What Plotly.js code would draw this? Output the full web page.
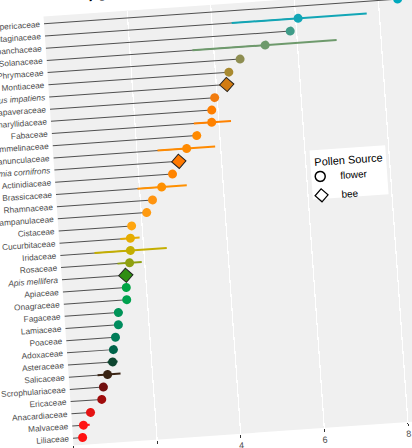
<!DOCTYPE html>
<html>
<head>
<meta charset="utf-8">
<script src="https://cdn.plot.ly/plotly-3.0.1.min.js"></script>
<style>
  html, body { margin:0; padding:0; background:#ffffff; overflow:hidden; width:412px; height:448px; }
  #plot { position:absolute; left:-79.4px; top:-14.8px; width:559px; height:520px;
          transform-origin:0 0; transform:rotate(-4deg); }
</style>
</head>
<body>
<div id="plot"></div>
<script>
// ---- data ----
const families = ["Hypericaceae","Plantaginaceae","Orobanchaceae","Solanaceae","Phrymaceae","Montiaceae",
  "Bombus impatiens","Papaveraceae","Amaryllidaceae","Fabaceae","Commelinaceae","Ranunculaceae",
  "Osmia cornifrons","Actinidiaceae","Brassicaceae","Rhamnaceae","Campanulaceae","Cistaceae",
  "Cucurbitaceae","Iridaceae","Rosaceae","Apis mellifera","Apiaceae","Onagraceae","Fagaceae",
  "Lamiaceae","Poaceae","Adoxaceae","Asteraceae","Salicaceae","Scrophulariaceae","Ericaceae",
  "Anacardiaceae","Malvaceae","Liliaceae"];
const values = [8.46,6.06,5.85,5.23,4.61,4.32,4.25,3.94,3.85,3.83,3.45,3.19,2.98,2.81,2.53,2.29,2.13,
  1.75,1.70,1.68,1.64,1.53,1.52,1.51,1.29,1.27,1.18,1.11,1.07,0.93,0.81,0.75,0.46,0.27,0.23];
const lower = [null,4.47,null,3.49,null,null,4.08,null,null,3.40,null,2.49,null,null,1.95,null,null,
  null,1.46,0.82,1.35,null,null,null,1.22,null,null,null,0.95,0.69,null,null,null,0.18,null];
const upper = [null,7.70,null,6.94,null,null,4.42,null,null,4.29,null,3.87,null,null,3.13,null,null,
  null,1.92,2.55,1.93,null,null,null,1.39,null,null,null,1.19,1.24,null,null,null,0.42,null];
const source = ["flower","flower","flower","flower","flower","flower","bee","flower","flower","flower",
  "flower","flower","bee","flower","flower","flower","flower","flower","flower","flower","flower","bee",
  "flower","flower","flower","flower","flower","flower","flower","flower","flower","flower","flower",
  "flower","flower"];
const colors = ["#00A9BD","#12A6B6","#3F9C88","#6E9A6C","#8E8E52","#A98A30","#D27C12","#F27C0E","#FF7F00",
  "#FF8200","#FF8A00","#FF8A00","#FF7800","#FF8400","#FF9000","#FF9410","#FF9A10","#FFA610","#E6AC00",
  "#C4AE00","#8FA010","#2F8E12","#00A444","#00A24E","#009458","#008C5E","#007C58","#00644A","#0F4630",
  "#3A2414","#721010","#A00C0C","#E41212","#FF1414","#FF1010"];

const xTicks = [0,2,4,6,8,10];
const legendTitle = "Pollen Source";
const tickText = families.map((f,i)=> source[i]==="bee" ? "<i>"+f+"</i>" : f);

// ---- traces ----
const traces = [];
// lollipop stems from 0 to value
const sx=[], sy=[];
families.forEach((f,i)=>{ sx.push(0, values[i], null); sy.push(f, f, null); });
traces.push({type:"scatter", mode:"lines", x:sx, y:sy, line:{color:"#505050", width:1},
  hoverinfo:"skip", showlegend:false});
// error ranges, coloured per row
families.forEach((f,i)=>{
  if (lower[i]!==null) {
    traces.push({type:"scatter", mode:"lines", x:[lower[i], upper[i]], y:[f,f],
      line:{color:colors[i], width:2}, hoverinfo:"skip", showlegend:false});
  }
});
// flower points
const fi = families.map((f,i)=>i).filter(i=>source[i]==="flower");
traces.push({type:"scatter", mode:"markers", x:fi.map(i=>values[i]), y:fi.map(i=>families[i]),
  marker:{symbol:"circle", size:9, color:fi.map(i=>colors[i]), line:{width:0}}, showlegend:false});
// bee points
const bi = families.map((f,i)=>i).filter(i=>source[i]==="bee");
traces.push({type:"scatter", mode:"markers", x:bi.map(i=>values[i]), y:bi.map(i=>families[i]),
  marker:{symbol:"diamond", size:11, color:bi.map(i=>colors[i]), line:{width:1, color:"#222222"}},
  showlegend:false});
// legend keys
traces.push({type:"scatter", mode:"markers", x:[null], y:[null], name:"flower",
  marker:{symbol:"circle-open", size:10, color:"#000000", line:{width:1.5}}});
traces.push({type:"scatter", mode:"markers", x:[null], y:[null], name:"bee",
  marker:{symbol:"diamond-open", size:10, color:"#000000", line:{width:1.2}}});

const layout = {
  width:559, height:520,
  margin:{l:120, r:20, t:40, b:50},
  paper_bgcolor:"#ffffff", plot_bgcolor:"#F0F0F0",
  font:{family:"Liberation Sans, Arial, sans-serif", color:"#4D4D4D"},
  title:{text:"<b>Pollen P:L Ratios of Plant Families and Bees</b>", font:{size:14, color:"#000000"},
    xref:"paper", x:0.11, xanchor:"left", yref:"container", y:1-28/520, yanchor:"bottom"},
  xaxis:{range:[0,10], tickvals:xTicks, ticks:"outside", ticklen:3, tickcolor:"#333333",
    tickfont:{size:9, color:"#4D4D4D"}, showgrid:true, gridcolor:"#FFFFFF", gridwidth:1.2,
    zeroline:false, showline:false, fixedrange:true},
  yaxis:{type:"category", categoryorder:"array", categoryarray:families, range:[34.6,-0.6],
    tickvals:families, ticktext:tickText, tickfont:{size:8.3, color:"#4D4D4D"},
    showgrid:false, zeroline:false, showline:false, ticks:"", ticklabelstandoff:3},
  shapes:[{type:"rect", xref:"paper", yref:"paper", x0:0.611, x1:0.792, y0:0.532, y1:0.646,
    fillcolor:"#FFFFFF", line:{width:0}, layer:"above"}],
  annotations:[{text:legendTitle, xref:"paper", yref:"paper", x:0.616, y:0.619,
    xanchor:"left", yanchor:"middle", showarrow:false, font:{size:11, color:"#000000"}}],
  legend:{font:{size:10, color:"#000000"}, bgcolor:"rgba(0,0,0,0)", x:0.5845, y:0.618,
    xanchor:"left", yanchor:"top", tracegroupgap:0, itemwidth:30},
  showlegend:true
};

Plotly.newPlot("plot", traces, layout, {displayModeBar:false, staticPlot:true});
</script>
</body>
</html>
